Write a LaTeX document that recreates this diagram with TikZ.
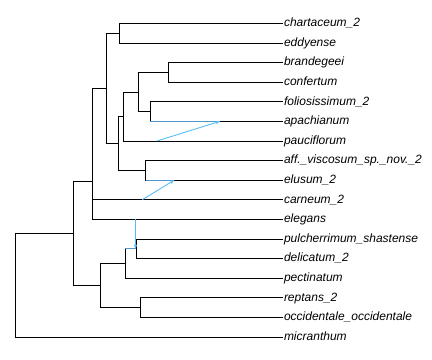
\documentclass[tikz,border=0pt]{standalone}
\usepackage{fontspec}
\setmainfont{Liberation Sans}
\usetikzlibrary{arrows.meta}
\definecolor{ret}{RGB}{86,188,250}
\definecolor{retbr}{RGB}{80,150,200}
\begin{document}
\begin{tikzpicture}[x=1bp,y=-1bp,
  br/.style={draw=black, line width=0.8bp},
  retedge/.style={draw=ret, line width=0.9bp, -{Stealth[length=4.5bp,width=3.5bp]}},
  retbranch/.style={draw=retbr, line width=0.8bp},
  lab/.style={anchor=base west, inner sep=0pt, xshift=0.8bp, yshift=-3.4bp,
    font=\fontsize{12bp}{14bp}\selectfont\itshape}]
\useasboundingbox (0,0) rectangle (432,360);
% tips
\coordinate (t0) at (283,23.3);
\coordinate (t1) at (283,42.9);
\coordinate (t2) at (283,62.5);
\coordinate (t3) at (283,82.1);
\coordinate (t4) at (283,101.7);
\coordinate (t5) at (283,121.3);
\coordinate (t6) at (283,140.9);
\coordinate (t7) at (283,160.5);
\coordinate (t8) at (283,180.1);
\coordinate (t9) at (283,199.7);
\coordinate (t10) at (283,219.3);
\coordinate (t11) at (283,238.9);
\coordinate (t12) at (283,258.5);
\coordinate (t13) at (283,278.1);
\coordinate (t14) at (283,297.7);
\coordinate (t15) at (283,317.3);
\coordinate (t16) at (283,336.9);
\node[lab] (l0) at (t0) {chartaceum\_2};
\node[lab] (l1) at (t1) {eddyense};
\node[lab] (l2) at (t2) {brandegeei};
\node[lab] (l3) at (t3) {confertum};
\node[lab] (l4) at (t4) {foliosissimum\_2};
\node[lab] (l5) at (t5) {apachianum};
\node[lab] (l6) at (t6) {pauciflorum};
\node[lab] (l7) at (t7) {aff.\_viscosum\_sp.\_nov.\_2};
\node[lab] (l8) at (t8) {elusum\_2};
\node[lab] (l9) at (t9) {carneum\_2};
\node[lab] (l10) at (t10) {elegans};
\node[lab] (l11) at (t11) {pulcherrimum\_shastense};
\node[lab] (l12) at (t12) {delicatum\_2};
\node[lab] (l13) at (t13) {pectinatum};
\node[lab] (l14) at (t14) {reptans\_2};
\node[lab] (l15) at (t15) {occidentale\_occidentale};
\node[lab] (l16) at (t16) {micranthum};
% internal nodes
\coordinate (a) at (119.3,33.1);
\coordinate (b) at (168.3,72.3);
\coordinate (c) at (150,111.5);
\coordinate (d) at (138.3,91.9);
\coordinate (e) at (123.3,116.4);
\coordinate (f) at (145.7,170.3);
\coordinate (g) at (118.3,143.35);
\coordinate (h) at (106.7,88.2);
\coordinate (i) at (92,143.95);
\coordinate (j) at (92,181.6);
\coordinate (k) at (136.7,248.7);
\coordinate (l) at (125.3,263.4);
\coordinate (m) at (140.3,307.5);
\coordinate (n) at (100.3,285.45);
\coordinate (o) at (73.3,233.5);
\coordinate (r) at (15.7,285.2);
% branches
\draw[br] (a) |- (t0) (a) |- (t1);
\draw[br] (b) |- (t2) (b) |- (t3);
\draw[br] (c) |- (t4) (c) |- (t5);
\draw[br] (d) |- (b) (d) |- (c);
\draw[br] (e) |- (d) (e) |- (t6);
\draw[br] (f) |- (t7) (f) |- (t8);
\draw[br] (g) |- (e) (g) |- (f);
\draw[br] (h) |- (a) (h) |- (g);
\draw[br] (i) |- (h) (i) |- (t9);
\draw[br] (j) |- (i) (j) |- (t10);
\draw[br] (k) |- (t11) (k) |- (t12);
\draw[br] (l) |- (k) (l) |- (t13);
\draw[br] (m) |- (t14) (m) |- (t15);
\draw[br] (n) |- (l) (n) |- (m);
\draw[br] (o) |- (j) (o) |- (n);
\draw[br] (r) |- (o) (r) |- (t16);
% reticulations
\coordinate (r1s) at (157.3,140.9);
\coordinate (r1e) at (220,121.3);
\coordinate (r2s) at (142.3,199.7);
\coordinate (r2e) at (174.3,180.1);
\coordinate (r3s) at (135.5,219.3);
\coordinate (r3e) at (135.5,248.7);
\draw[retbranch] (c |- r1e) -- (r1e);
\draw[retbranch] (f |- r2e) -- (r2e);
\draw[retbranch] (l |- r3e) -- (r3e);
\draw[retedge] (r1s) -- (r1e);
\draw[retedge] (r2s) -- (r2e);
\draw[retedge] (r3s) -- (r3e);
\end{tikzpicture}
\end{document}
